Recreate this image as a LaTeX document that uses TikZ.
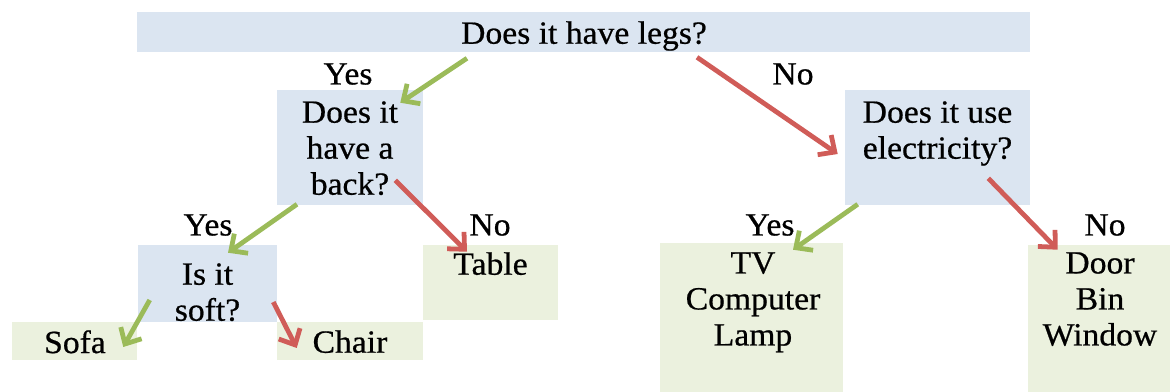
\documentclass[tikz,border=0pt]{standalone}
\usepackage{fontspec}
\setmainfont[FakeStretch=1.04,FakeBold=0.6]{Liberation Serif}
\usetikzlibrary{arrows.meta,fit}

\definecolor{qblue}{RGB}{219,229,241}
\definecolor{agreen}{RGB}{235,241,222}
\definecolor{yesgreen}{RGB}{155,187,89}
\definecolor{nored}{RGB}{208,92,88}

\tikzset{
  question/.style={fill=qblue, inner sep=0, fit={#1}},
  answer/.style={fill=agreen, inner sep=0, fit={#1}},
  txt/.style={anchor=north, inner sep=0, align=center,
    font=\fontsize{23pt}{25.6pt}\selectfont},
  yesarrow/.style={draw=yesgreen, line width=3.4pt,
    -{Straight Barb[length=9pt,width=17pt]}},
  noarrow/.style={draw=nored, line width=3.4pt,
    -{Straight Barb[length=9pt,width=17pt]}}
}

\begin{document}
\begin{tikzpicture}[x=0.025cm, y=-0.025cm]
    \useasboundingbox (0,0) rectangle (1170,392);
    % Question cells
    \node[question={(137,12) (1030,52)}] (legs) {};
    \node[question={(277,90) (423,205)}] (back) {};
    \node[question={(845,90) (1030,205)}] (elec) {};
    \node[question={(138,245) (277,322)}] (soft) {};
    % Answer cells
    \node[answer={(423,245) (558,320)}] (table) {};
    \node[answer={(12,322) (137,360)}] (sofa) {};
    \node[answer={(277,322) (423,360)}] (chair) {};
    \node[answer={(660,243) (843,392)}] (tv) {};
    \node[answer={(1028,245) (1170,392)}] (door) {};
    % Texts
    \node[txt] (legstext) at (584,21) {Does it have legs?};
    \node[txt] (backtext) at (350,101) {Does it\\have a\\back?};
    \node[txt] (electext) at (937.5,101) {Does it use\\electricity?};
    \node[txt] (softtext) at (207.5,263) {Is it\\soft?};
    \node[txt] (tabletext) at (490.5,252) {Table};
    \node[txt] (sofatext) at (75,330) {Sofa};
    \node[txt] (chairtext) at (350,330) {Chair};
    \node[txt] (tvtext) at (753,252) {TV\\Computer\\Lamp};
    \node[txt] (doortext) at (1100,252) {Door\\Bin\\Window};
    % Yes / No
    \node[txt] (yesa) at (348,63) {Yes};
    \node[txt] (noa) at (793,63) {No};
    \node[txt] (yesb) at (208,214) {Yes};
    \node[txt] (nob) at (490,214) {No};
    \node[txt] (yesc) at (770,214) {Yes};
    \node[txt] (noc) at (1105,214) {No};
    % Arrows
    \draw[yesarrow] ([shift={(-116.5,6)}]legs.south) -- ([shift={(-23,13)}]back.north east);
    \draw[noarrow] ([shift={(113.5,5)}]legs.south) -- ([shift={(-7,6.5)}]elec.west);
    \draw[yesarrow] ([shift={(-53,-1)}]back.south) -- ([shift={(20.5,8)}]soft.north);
    \draw[noarrow] ([shift={(-28,-25)}]back.south east) -- ([shift={(-23.5,7)}]table.north);
    \draw[yesarrow] ([shift={(12,16.5)}]soft.west) -- ([shift={(-14,6)}]sofa.east);
    \draw[noarrow] ([shift={(-4,18.5)}]soft.east) -- ([shift={(20,7)}]chair.west);
    \draw[yesarrow] ([shift={(13,-1)}]elec.south west) -- ([shift={(41.5,7)}]tv.north);
    \draw[noarrow] ([shift={(-42,-27)}]elec.south east) -- ([shift={(30,5)}]door.north west);
\end{tikzpicture}
\end{document}
